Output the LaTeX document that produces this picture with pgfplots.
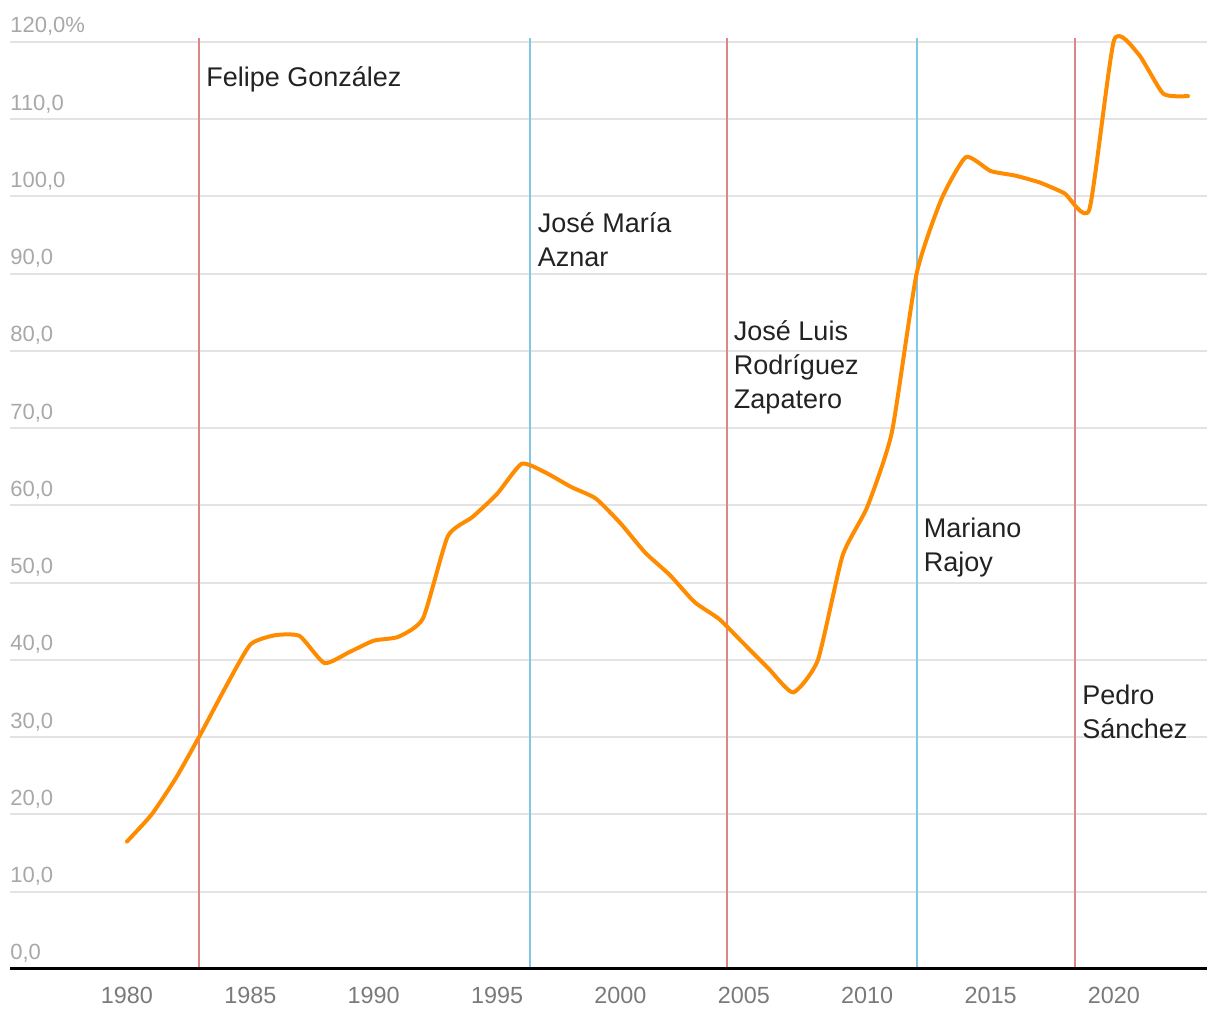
\documentclass[border=0pt]{standalone}
\usepackage{pgfplots}
\pgfplotsset{compat=1.18}
\usepackage{fontspec}
\setmainfont{Liberation Sans}
\definecolor{lineorange}{HTML}{FF8C00}
\definecolor{psoe}{HTML}{DE8585}
\definecolor{pp}{HTML}{7EC8E3}
\definecolor{gridgray}{HTML}{E3E3E3}
\definecolor{ylab}{HTML}{A8A8A8}
\definecolor{xlab}{HTML}{7A7A7A}
\definecolor{txt}{HTML}{222222}
\tikzset{labstyle/.style={anchor=base west, inner sep=0pt, font=\fontsize{13.5}{17}\selectfont, text=txt, xshift=3.5pt}}
\begin{document}
\begin{tikzpicture}
\useasboundingbox (-5pt,-25.5pt) rectangle (605pt,484.5pt);
\begin{axis}[
 at={(0,0)}, anchor=south west,
 scale only axis, width=598.5pt, height=463.5pt,
 xmin=1975.26, xmax=2023.77, ymin=0, ymax=120,
 clip=false,
 axis line style={draw=none},
 xtick={1980,1985,1990,1995,2000,2005,2010,2015,2020},
 xticklabels={1980,1985,1990,1995,2000,2005,2010,2015,2020},
 ytick={0,10,20,30,40,50,60,70,80,90,100,110,120},
 yticklabels={{0,0},{10,0},{20,0},{30,0},{40,0},{50,0},{60,0},{70,0},{80,0},{90,0},{100,0},{110,0},{120,0\%}},
 major tick length=0pt,
 tick style={draw=none},
 ymajorgrids,
 grid style={gridgray, line width=1pt},
 xticklabel style={anchor=base, yshift=-17.5pt, inner sep=0pt, font=\fontsize{11.7}{14}\selectfont, text=xlab},
 yticklabel style={anchor=base west, yshift=4.5pt, inner sep=0pt, font=\fontsize{11}{13}\selectfont, text=ylab},
]
\addplot[psoe, line width=1pt] coordinates {(1982.92,0) (1982.92,120.5)};
\addplot[pp, line width=1pt] coordinates {(1996.35,0) (1996.35,120.5)};
\addplot[psoe, line width=1pt] coordinates {(2004.3,0) (2004.3,120.5)};
\addplot[pp, line width=1pt] coordinates {(2012.0,0) (2012.0,120.5)};
\addplot[psoe, line width=1pt] coordinates {(2018.42,0) (2018.42,120.5)};

\addplot[lineorange, line width=2pt, smooth, tension=0.33, line join=round, line cap=round] coordinates {
(1980,16.5) (1981,20.0) (1982,24.8) (1983,30.5) (1984,36.5) (1985,42.0)
(1986,43.2) (1987,43.1) (1988,39.6) (1989,41.0) (1990,42.5) (1991,43.0)
(1992,45.4) (1993,56.0) (1994,58.5) (1995,61.5) (1996,65.4) (1997,64.2)
(1998,62.4) (1999,60.9) (2000,57.7) (2001,53.9) (2002,51.0) (2003,47.5)
(2004,45.3) (2005,42.1) (2006,38.9) (2007,35.8) (2008,40.0) (2009,53.5)
(2010,59.8) (2011,69.5) (2012,90.0) (2013,99.6) (2014,105.1) (2015,103.3)
(2016,102.7) (2017,101.8) (2018,100.4) (2019,98.3) (2020,120.2) (2021,118.4)
(2022,113.3) (2023,113.0)
};

\draw[black, line width=1.5pt] (rel axis cs:0,0) -- (rel axis cs:1,0);

\node[labstyle] at (axis cs:1982.92,114.3) {Felipe González};
\node[labstyle] at (axis cs:1996.35,95.3) {José María};
\node[labstyle] at (axis cs:1996.35,90.9) {Aznar};
\node[labstyle] at (axis cs:2004.3,81.3) {José Luis};
\node[labstyle] at (axis cs:2004.3,76.9) {Rodríguez};
\node[labstyle] at (axis cs:2004.3,72.5) {Zapatero};
\node[labstyle] at (axis cs:2012.0,55.9) {Mariano};
\node[labstyle] at (axis cs:2012.0,51.5) {Rajoy};
\node[labstyle] at (axis cs:2018.42,34.2) {Pedro};
\node[labstyle] at (axis cs:2018.42,29.8) {Sánchez};
\end{axis}
\end{tikzpicture}
\end{document}
